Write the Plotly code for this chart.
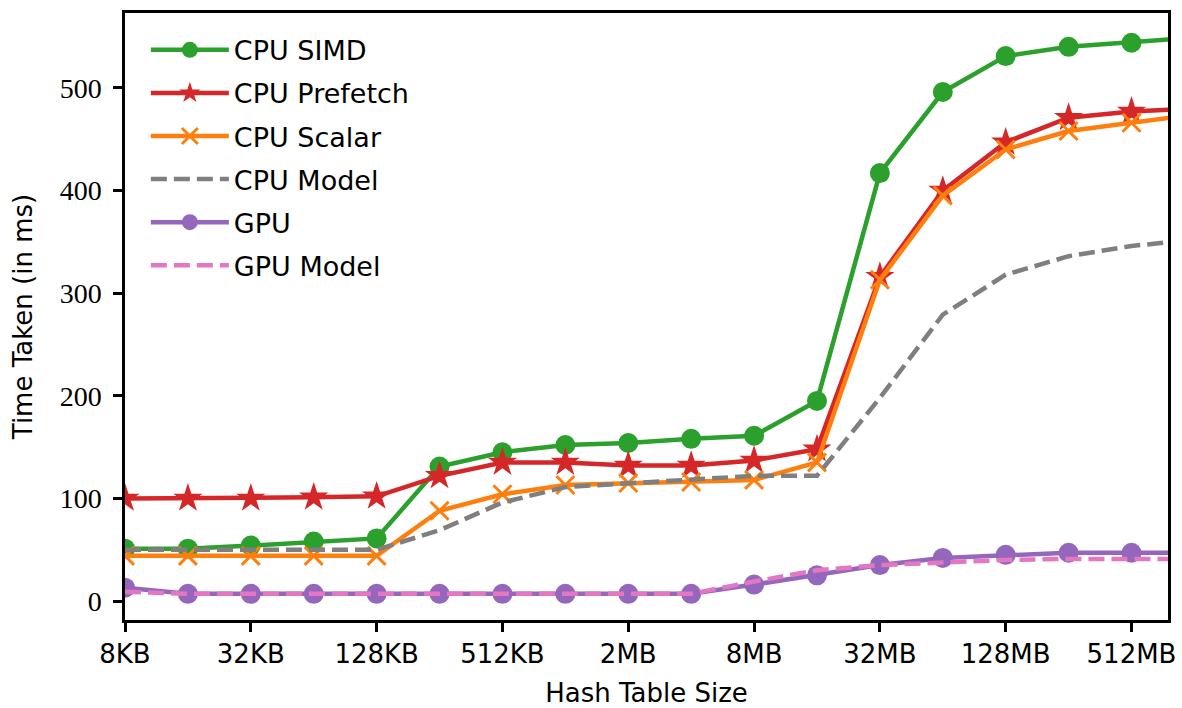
import plotly.graph_objects as go

# Hash table sizes (one point per power of two)
sizes = ["8KB", "16KB", "32KB", "64KB", "128KB", "256KB", "512KB", "1MB", "2MB",
         "4MB", "8MB", "16MB", "32MB", "64MB", "128MB", "256MB", "512MB", "1GB"]

# Time taken in ms
cpu_simd = [51, 51, 54, 58, 61, 131, 145, 152, 154, 158, 161, 195, 417, 496, 531, 540, 544, 549]
cpu_prefetch = [100, 100, 100, 101, 102, 122, 135, 135, 132, 132, 137, 148, 316, 400, 447, 471, 477, 480]
cpu_scalar = [44, 44, 44, 44, 44, 88, 104, 113, 115, 116, 118, 135, 313, 395, 440, 458, 466, 474]
cpu_model = [50, 50, 50, 50, 50, 69, 96, 111, 115, 119, 122, 122, 198, 279, 318, 336, 346, 352]
gpu = [13, 7, 7, 7, 7, 7, 7, 7, 7, 7, 16, 25, 35, 42, 45, 47, 47, 47]
gpu_model = [9, 7, 7, 7, 7, 7, 7, 7, 7, 7, 19, 30, 35, 38, 40, 41, 41, 41]

x = list(range(len(sizes)))

GREEN = "#2ca02c"
RED = "#d62728"
ORANGE = "#ff7f0e"
GRAY = "#7f7f7f"
PURPLE = "#9467bd"
PINK = "#e377c2"

LW = 4.5
DASH = "16px,7px"

fig = go.Figure()

fig.add_trace(go.Scatter(
    x=x, y=cpu_simd, name="CPU SIMD", mode="lines+markers", legendgroup="a",
    line=dict(color=GREEN, width=LW),
    marker=dict(symbol="circle", size=20, color=GREEN)))
fig.add_trace(go.Scatter(
    x=x, y=cpu_prefetch, name="CPU Prefetch", mode="lines+markers", legendgroup="b",
    line=dict(color=RED, width=LW),
    marker=dict(symbol="star", size=22, color=RED)))
fig.add_trace(go.Scatter(
    x=x, y=cpu_scalar, name="CPU Scalar", mode="lines+markers", legendgroup="c",
    line=dict(color=ORANGE, width=LW),
    marker=dict(symbol="x-thin", size=18, color=ORANGE,
                line=dict(color=ORANGE, width=3))))
fig.add_trace(go.Scatter(
    x=x, y=cpu_model, name="CPU Model", mode="lines", legendgroup="d",
    line=dict(color=GRAY, width=LW, dash=DASH)))
fig.add_trace(go.Scatter(
    x=x, y=gpu, name="GPU", mode="lines+markers", legendgroup="e",
    line=dict(color=PURPLE, width=LW),
    marker=dict(symbol="circle", size=20, color=PURPLE)))
fig.add_trace(go.Scatter(
    x=x, y=gpu_model, name="GPU Model", mode="lines", legendgroup="f",
    line=dict(color=PINK, width=LW, dash=DASH)))

sans = "DejaVu Sans"
serif = "Liberation Serif"

fig.update_layout(
    width=1182, height=708,
    margin=dict(l=125, r=14, t=13, b=88),
    paper_bgcolor="white", plot_bgcolor="white",
    showlegend=True,
    legend=dict(
        x=0.02, y=0.979, xanchor="left", yanchor="top",
        bgcolor="rgba(0,0,0,0)", borderwidth=0,
        font=dict(family=sans, size=27, color="black"),
        itemwidth=78, tracegroupgap=5,
    ),
    xaxis=dict(
        automargin=False,
        range=[0, 16.58],
        tickvals=x[::2], ticktext=sizes[::2],
        tickfont=dict(family=sans, size=26, color="black"),
        ticks="outside", ticklen=9, tickwidth=2.5, tickcolor="black",
        showline=True, linecolor="black", linewidth=2.5, mirror=True,
        showgrid=False, zeroline=False,
        title=dict(text="Hash Table Size", font=dict(family=sans, size=26, color="black"),
                   standoff=16),
    ),
    yaxis=dict(
        automargin=False,
        range=[-18.5, 573],
        tickvals=[0, 100, 200, 300, 400, 500],
        tickfont=dict(family=serif, size=28, color="black"),
        ticks="outside", ticklen=9, tickwidth=2.5, tickcolor="black",
        ticklabelstandoff=6,
        showline=True, linecolor="black", linewidth=2.5, mirror=True,
        showgrid=False, zeroline=False,
        title=dict(text="Time Taken (in ms)", font=dict(family=sans, size=26, color="black"),
                   standoff=20),
    ),
)

fig.write_html("out.html")
